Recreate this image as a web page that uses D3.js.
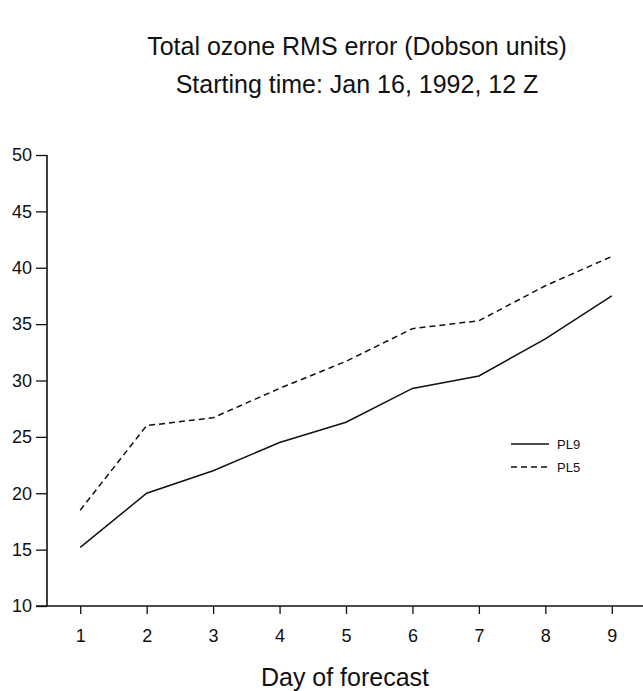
<!DOCTYPE html>
<html>
<head>
<meta charset="utf-8">
<script src="https://cdn.jsdelivr.net/npm/d3@7"></script>
<style>
  html, body { margin: 0; padding: 0; background: #fff; }
  svg { display: block; }
  text { font-family: "Liberation Sans", Arial, Helvetica, sans-serif; fill: #111; }
</style>
</head>
<body>
<svg id="chart" width="643" height="691"></svg>
<script>
// Forecast days and RMS error of total ozone (Dobson units) for two runs
const days = [1, 2, 3, 4, 5, 6, 7, 8, 9];
const pl9 = [15.2, 20.0, 22.0, 24.5, 26.3, 29.3, 30.4, 33.7, 37.5];
const pl5 = [18.5, 26.0, 26.7, 29.3, 31.7, 34.6, 35.3, 38.4, 41.0];
const yTicks = [10, 15, 20, 25, 30, 35, 40, 45, 50];
const seriesNames = ["PL9", "PL5"];
const titleLines = ["Total ozone RMS error (Dobson units)", "Starting time: Jan 16, 1992, 12 Z"];
const xLabel = "Day of forecast";

const svg = d3.select("#chart");

const x = d3.scaleLinear().domain([0.5, 9.5]).range([47, 645]);
const y = d3.scaleLinear().domain([10, 50]).range([606, 155]);

// Titles
svg.selectAll("text.title")
  .data(titleLines)
  .join("text")
  .attr("class", "title")
  .attr("x", 357)
  .attr("y", (d, i) => 55 + i * 38)
  .attr("text-anchor", "middle")
  .attr("font-size", 25)
  .text(d => d);

// Y axis
const yAxis = d3.axisLeft(y).tickValues(yTicks).tickSize(11).tickPadding(4).tickFormat(d3.format("d"));
const gy = svg.append("g").attr("transform", `translate(${x(0.5)},0)`).call(yAxis);
gy.select(".domain").attr("d", `M0,${y(50)}V${y(10)}`).attr("stroke", "#111").attr("stroke-width", 1.6);
gy.selectAll(".tick line").attr("stroke", "#111").attr("stroke-width", 1.3);
gy.selectAll(".tick text").attr("font-size", 18).attr("fill", "#111")
  .style("font-family", "'Liberation Sans', Arial, sans-serif");

// X axis
const xAxis = d3.axisBottom(x).tickValues(days).tickSize(8).tickPadding(15).tickFormat(d3.format("d"));
const gx = svg.append("g").attr("transform", `translate(0,${y(10)})`).call(xAxis);
gx.select(".domain").attr("d", `M${x(0.5) - 11},0H${x(9.5)}`).attr("stroke", "#111").attr("stroke-width", 1.6);
gx.selectAll(".tick line").attr("stroke", "#111").attr("stroke-width", 1.3);
gx.selectAll(".tick text").attr("font-size", 18).attr("fill", "#111")
  .style("font-family", "'Liberation Sans', Arial, sans-serif");

svg.append("text")
  .attr("x", 345)
  .attr("y", 686)
  .attr("text-anchor", "middle")
  .attr("font-size", 25)
  .text(xLabel);

// Series lines
const line = d3.line().x((d, i) => x(days[i])).y(d => y(d));
const dashes = [null, "6,4"];
[pl9, pl5].forEach((vals, k) => {
  svg.append("path")
    .datum(vals)
    .attr("d", line)
    .attr("fill", "none")
    .attr("stroke", "#111")
    .attr("stroke-width", 1.5)
    .attr("stroke-dasharray", dashes[k]);
});

// Legend
const legend = svg.append("g").attr("transform", "translate(511,444)");
seriesNames.forEach((name, k) => {
  legend.append("line")
    .attr("x1", 0).attr("x2", 38)
    .attr("y1", k * 23).attr("y2", k * 23)
    .attr("stroke", "#111").attr("stroke-width", 1.5)
    .attr("stroke-dasharray", dashes[k]);
  legend.append("text")
    .attr("x", 46).attr("y", k * 23 + 4.5)
    .attr("font-size", 13)
    .text(name);
});
</script>
</body>
</html>
